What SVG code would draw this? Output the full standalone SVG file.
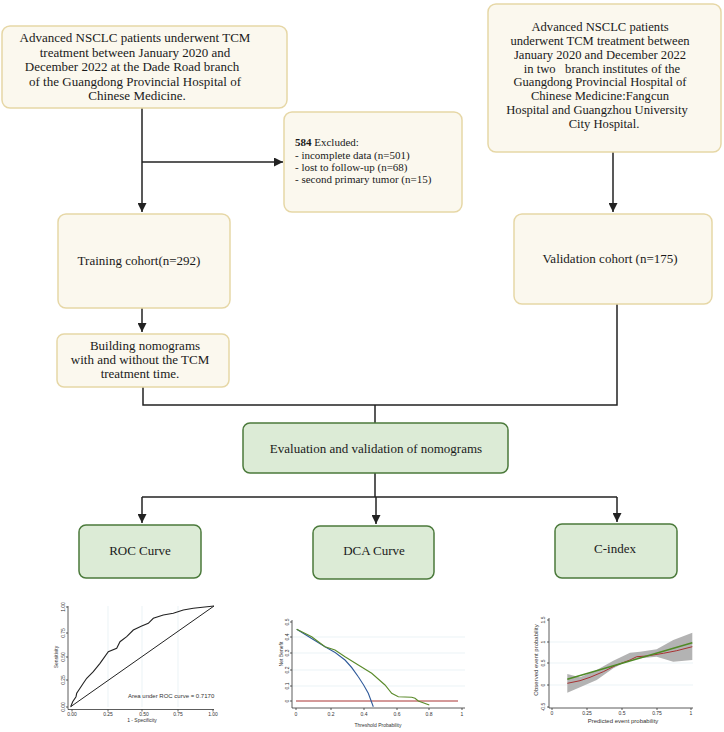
<svg xmlns="http://www.w3.org/2000/svg" width="724" height="732" viewBox="0 0 724 732">
<defs>
<style>
.cream{fill:#fbf8ee;stroke:#e6d7a6;stroke-width:1.5}
.green{fill:#dcebd6;stroke:#4b7a3b;stroke-width:1.5}
.t{font-family:"Liberation Serif","Times New Roman",serif;font-size:13px;fill:#1a1a1a}
.t2{font-family:"Liberation Serif","Times New Roman",serif;font-size:12.6px;fill:#1a1a1a}
.ts{font-family:"Liberation Serif","Times New Roman",serif;font-size:11px;fill:#1a1a1a}
.c{text-anchor:middle}
.conn{fill:none;stroke:#222;stroke-width:1.5}
.ax{fill:none;stroke:#333;stroke-width:0.8}
.grid{fill:none;stroke:#e3eef2;stroke-width:0.7}
.ct{font-family:"Liberation Sans",Arial,sans-serif;font-size:5px;fill:#333}
.cl{font-family:"Liberation Sans",Arial,sans-serif;font-size:6px;fill:#333}
</style>
<marker id="ah" markerWidth="9" markerHeight="9" viewBox="0 0 10 10" refX="10" refY="5" orient="auto" markerUnits="userSpaceOnUse">
<path d="M0,0 L10,5 L0,10 z" fill="#222"/>
</marker>
</defs>
<rect width="724" height="732" fill="#ffffff"/>

<g id="connectors">
<path class="conn" d="M142,108 V212" marker-end="url(#ah)"/>
<path class="conn" d="M142,162 H283" marker-end="url(#ah)"/>
<path class="conn" d="M613,152 V212" marker-end="url(#ah)"/>
<path class="conn" d="M142,308 V332" marker-end="url(#ah)"/>
<path class="conn" d="M143,387 V405 H617 V304"/>
<path class="conn" d="M375,405 V423"/>
<path class="conn" d="M375,473 V497"/>
<path class="conn" d="M142,497 H617"/>
<path class="conn" d="M142,497 V523" marker-end="url(#ah)"/>
<path class="conn" d="M376,497 V524" marker-end="url(#ah)"/>
<path class="conn" d="M617,497 V522" marker-end="url(#ah)"/>
</g>

<g id="node-source-dade">
<rect class="cream" x="2" y="26" width="285" height="82" rx="8"/>
<text class="t c" x="135" y="42">Advanced NSCLC patients underwent TCM</text>
<text class="t c" x="135" y="56.5">treatment between January 2020 and</text>
<text class="t c" x="132" y="71">December 2022 at the Dade Road branch</text>
<text class="t c" x="135" y="85.5">of the Guangdong Provincial Hospital of</text>
<text class="t c" x="137" y="100">Chinese Medicine.</text>
</g>

<g id="node-excluded">
<rect class="cream" x="284" y="112" width="178" height="100" rx="8"/>
<text class="ts" x="295" y="146"><tspan font-weight="bold">584</tspan> Excluded:</text>
<text class="ts" x="295" y="159">- incomplete data (n=501)</text>
<text class="ts" x="295" y="171">- lost to follow-up (n=68)</text>
<text class="ts" x="295" y="183">- second primary tumor (n=15)</text>
</g>

<g id="node-source-branches">
<rect class="cream" x="488" y="4" width="233" height="148" rx="8"/>
<text class="t2 c" x="600" y="31">Advanced NSCLC patients</text>
<text class="t2 c" x="600" y="44.9">underwent TCM treatment between</text>
<text class="t2 c" x="600" y="58.7">January 2020 and December 2022</text>
<text class="t2 c" x="602" y="72.6">in two&#160;&#160; branch institutes of the</text>
<text class="t2 c" x="600" y="86.4">Guangdong Provincial Hospital of</text>
<text class="t2 c" x="600" y="100.3">Chinese Medicine:Fangcun</text>
<text class="t2 c" x="597" y="114.1">Hospital and Guangzhou University</text>
<text class="t2 c" x="604" y="128">City Hospital.</text>
</g>

<g id="node-training">
<rect class="cream" x="58" y="214" width="172" height="94" rx="8"/>
<text class="t c" x="139" y="265">Training cohort(n=292)</text>
</g>

<g id="node-validation">
<rect class="cream" x="514" y="214" width="198" height="90" rx="8"/>
<text class="t c" x="610" y="263">Validation cohort (n=175)</text>
</g>

<g id="node-building">
<rect class="cream" x="57" y="334" width="172" height="53" rx="7"/>
<text class="t c" x="145" y="350">Building nomograms</text>
<text class="t c" x="140" y="364">with and without the TCM</text>
<text class="t c" x="140" y="378">treatment time.</text>
</g>

<g id="node-evaluation">
<rect class="green" x="243" y="423" width="265" height="50" rx="7"/>
<text class="t c" x="376" y="453">Evaluation and validation of nomograms</text>
</g>

<g id="node-roc">
<rect class="green" x="79" y="525" width="122" height="53" rx="7"/>
<text class="t c" x="140" y="555">ROC Curve</text>
</g>

<g id="node-dca">
<rect class="green" x="313" y="526" width="121" height="53" rx="7"/>
<text class="t c" x="374" y="555">DCA Curve</text>
</g>

<g id="node-cindex">
<rect class="green" x="555" y="524" width="122" height="54" rx="7"/>
<text class="t c" x="615" y="553">C-index</text>
</g>

<g id="chart-roc">
<path class="grid" d="M108,606 V707 M142,606 V707 M178,606 V707"/>
<path class="ax" d="M68,606 V709.5 H214"/>
<path class="ax" d="M66,607 H68 M66,633 H68 M66,657 H68 M66,680 H68 M66,707 H68 M72,709.5 V711.5 M108,709.5 V711.5 M142,709.5 V711.5 M178,709.5 V711.5 M213,709.5 V711.5"/>
<text class="ct c" transform="translate(64.5,607) rotate(-90)">1.00</text>
<text class="ct c" transform="translate(64.5,633) rotate(-90)">0.75</text>
<text class="ct c" transform="translate(64.5,657) rotate(-90)">0.50</text>
<text class="ct c" transform="translate(64.5,680) rotate(-90)">0.25</text>
<text class="ct c" transform="translate(64.5,707) rotate(-90)">0.00</text>
<text class="ct c" x="72" y="716">0.00</text>
<text class="ct c" x="108" y="716">0.25</text>
<text class="ct c" x="144" y="716">0.50</text>
<text class="ct c" x="178" y="716">0.75</text>
<text class="ct c" x="213" y="716">1.00</text>
<text class="ct c" x="142" y="722">1 - Specificity</text>
<text class="ct c" transform="translate(58,657) rotate(-90)">Sensitivity</text>
<path fill="none" stroke="#222" stroke-width="1" d="M70.7,706.7 L214,606"/>
<path fill="none" stroke="#222" stroke-width="1.1" d="M70.7,706.7 L72.7,701.7 L76,696.7 L76.7,693.3 L80,688.3 L83.3,683.3 L86.7,678.3 L93.3,671.7 L100,663.3 L108.3,651.7 L116.7,648.3 L120,641.7 L126.7,636.7 L133.3,630 L141.7,626 L148.3,623.3 L153.3,618.3 L163.3,615 L173.3,613.3 L183.3,610 L193.3,608.3 L214,606"/>
<text class="cl" x="128" y="698">Area under ROC curve = 0.7170</text>
</g>

<g id="chart-dca">
<path class="grid" d="M292,686 H465 M292,670 H465 M292,653 H465 M292,637 H465"/>
<path class="ax" d="M292,620 V708 H465"/>
<path class="ax" d="M290,701 H292 M290,686 H292 M290,670 H292 M290,653 H292 M290,637 H292 M290,622 H292 M296,708 V710 M331,708 V710 M364,708 V710 M397,708 V710 M429,708 V710 M462,708 V710"/>
<text class="ct c" transform="translate(289,701) rotate(-90)">0</text>
<text class="ct c" transform="translate(289,686) rotate(-90)">0.1</text>
<text class="ct c" transform="translate(289,670) rotate(-90)">0.2</text>
<text class="ct c" transform="translate(289,653) rotate(-90)">0.3</text>
<text class="ct c" transform="translate(289,637) rotate(-90)">0.4</text>
<text class="ct c" transform="translate(289,622) rotate(-90)">0.5</text>
<text class="ct c" x="296" y="716">0</text>
<text class="ct c" x="331" y="716">0.2</text>
<text class="ct c" x="364" y="716">0.4</text>
<text class="ct c" x="397" y="716">0.6</text>
<text class="ct c" x="429" y="716">0.8</text>
<text class="ct c" x="462" y="716">1</text>
<text class="ct c" x="378" y="727">Threshold Probability</text>
<text class="ct c" transform="translate(283,654) rotate(-90)">Net Benefit</text>
<path fill="none" stroke="#a83232" stroke-width="1" d="M296,701 H458"/>
<path fill="none" stroke="#2f5a9a" stroke-width="1.1" d="M296.7,629.3 L325,646.7 Q336,652 345,660 Q352,667 358.3,676.7 Q364,685 368.3,693.3 L373.3,706.7"/>
<path fill="none" stroke="#5a8a2a" stroke-width="1.1" d="M296.7,629.3 L311.7,636.7 L325,646.7 L335,650 L345,656.7 L358.3,665 L371.7,673.3 L385,685 L391.7,693.3 L398.3,696.7 L411.7,697.3 L415,698.3 L418.3,701 L429.3,705"/>
</g>

<g id="chart-cindex">
<path class="grid" d="M549,642 H693 M549,663 H693 M549,685 H693"/>
<path fill="#b3b3b3" stroke="none" d="M567.3,674 L580,677.3 L596.7,670 L613.3,660.7 L630,652.7 L640,651.7 L656.7,649.3 L673.3,640 L692.3,632.7 L692.3,660 L673.3,661.7 L656.7,656.7 L640,658.3 L630,660 L613.3,668.3 L596.7,680 L580,687.3 L567.3,692.7 Z"/>
<path class="ax" d="M549,618 V708 H693"/>
<path class="ax" d="M547,620 H549 M547,642 H549 M547,663 H549 M547,685 H549 M547,707 H549 M552,708 V710 M587,708 V710 M622,708 V710 M657,708 V710 M691,708 V710"/>
<text class="ct c" transform="translate(545,620) rotate(-90)">1.5</text>
<text class="ct c" transform="translate(545,642) rotate(-90)">1</text>
<text class="ct c" transform="translate(545,663) rotate(-90)">0.5</text>
<text class="ct c" transform="translate(545,685) rotate(-90)">0</text>
<text class="ct c" transform="translate(545,707) rotate(-90)">-0.5</text>
<text class="ct c" x="552" y="715">0</text>
<text class="ct c" x="587" y="715">0.25</text>
<text class="ct c" x="622" y="715">0.5</text>
<text class="ct c" x="657" y="715">0.75</text>
<text class="ct c" x="691" y="715">1</text>
<text class="cl c" x="623" y="723">Predicted event probability</text>
<text class="cl c" transform="translate(538,660) rotate(-90)">Observed event probability</text>
<path fill="none" stroke="#a83232" stroke-width="1" d="M567.3,683.3 L580,680.7 L590,677.3 L603.3,671.7 L616.7,665 L630,660 L636.7,656.7 L646.7,656 L663.3,653.3 L676.7,650.7 L692.3,646.7"/>
<path fill="none" stroke="#4f8a26" stroke-width="1.5" d="M567.3,679.3 L692.3,642.7"/>
</g>
</svg>
